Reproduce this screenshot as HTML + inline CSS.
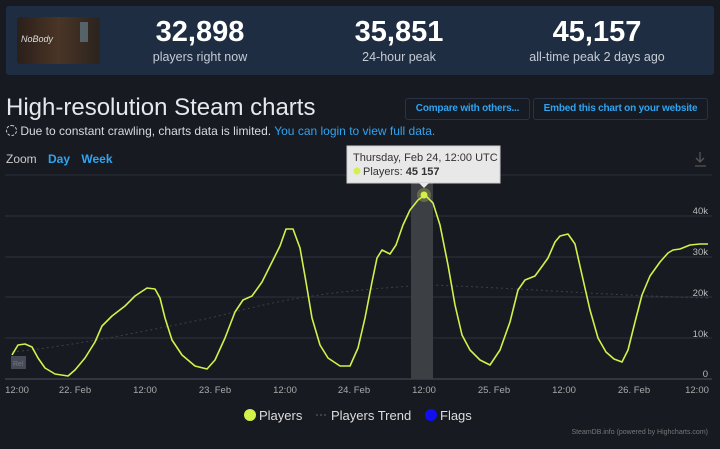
<!DOCTYPE html>
<html><head><meta charset="utf-8"><style>
body{margin:0;width:720px;height:449px;background:#171a21;font-family:"Liberation Sans",sans-serif;overflow:hidden;position:relative;color:#ddd}
.abs{position:absolute}
.panel{left:6px;top:6px;width:708px;height:69px;background:#1f2d42;border-radius:3px}
.num{font-weight:bold;font-size:29px;color:#fff;text-align:center;width:200px}
.lbl{font-size:12.5px;color:#c5ccd6;text-align:center;width:200px}
.btn{border:1px solid #2a3346;border-radius:3px;color:#2fa4f0;font-weight:bold;font-size:10px;height:20px;line-height:20px;text-align:center;background:#161a22;white-space:nowrap;overflow:hidden;letter-spacing:-0.2px}
</style></head><body>
<div class="abs panel"></div>
<div class="abs" style="left:17px;top:17px;width:83px;height:47px;border-radius:3px;background:linear-gradient(90deg,#2a1f1a,#4a3526 50%,#3a2c22 75%,#2b231e);"></div>
<div class="abs" style="left:21px;top:34px;font-size:9px;color:#ddd;font-style:italic">NoBody</div>
<div class="abs" style="left:80px;top:22px;width:8px;height:20px;background:#6a8a9a;opacity:.6"></div>
<div class="abs num" style="left:100px;top:16px">32,898</div>
<div class="abs lbl" style="left:100px;top:50px">players right now</div>
<div class="abs num" style="left:299px;top:16px">35,851</div>
<div class="abs lbl" style="left:299px;top:50px">24-hour peak</div>
<div class="abs num" style="left:497px;top:16px">45,157</div>
<div class="abs lbl" style="left:497px;top:50px">all-time peak 2 days ago</div>
<div class="abs" style="left:6px;top:94px;font-size:24px;color:#e6e8ec">High-resolution Steam charts</div>
<div class="abs btn" style="left:405px;top:98px;width:123px">Compare with others...</div>
<div class="abs btn" style="left:533px;top:98px;width:173px">Embed this chart on your website</div>
<div class="abs" style="left:6px;top:124px;font-size:12px;color:#d8dbe0"><span style="display:inline-block;width:9px;height:9px;border:1px dashed #ccc;border-radius:50%;vertical-align:-1px"></span> Due to constant crawling, charts data is limited. <span style="color:#2fa4f0">You can login to view full data.</span></div>
<div class="abs" style="left:6px;top:152px;font-size:12px;color:#ccc">Zoom <span style="color:#2fa4f0;font-weight:bold;margin-left:8px">Day</span> <span style="color:#2fa4f0;font-weight:bold;margin-left:8px">Week</span></div>
<svg class="abs" style="left:0;top:0" width="720" height="449">
<line x1="5" y1="175" x2="712" y2="175" stroke="#2a2e38"/>
<g stroke="#2c313c" stroke-width="1">
<line x1="5" y1="216" x2="712" y2="216"/><line x1="5" y1="257" x2="712" y2="257"/><line x1="5" y1="297" x2="712" y2="297"/><line x1="5" y1="338" x2="712" y2="338"/>
</g>
<line x1="5" y1="379" x2="712" y2="379" stroke="#3a404c" stroke-width="1.5"/>
<rect x="411" y="175" width="22" height="204" fill="#3c3f44"/>
<g fill="#bbb" font-size="9.5" text-anchor="end"><text x="708" y="214">40k</text><text x="708" y="255">30k</text><text x="708" y="296">20k</text><text x="708" y="337">10k</text><text x="708" y="377">0</text></g>
<g fill="#aaa" font-size="9.5" text-anchor="middle"><text x="17" y="393">12:00</text><text x="75" y="393">22. Feb</text><text x="145" y="393">12:00</text><text x="215" y="393">23. Feb</text><text x="285" y="393">12:00</text><text x="354" y="393">24. Feb</text><text x="424" y="393">12:00</text><text x="494" y="393">25. Feb</text><text x="564" y="393">12:00</text><text x="634" y="393">26. Feb</text><text x="697" y="393">12:00</text></g>
<path d="M12,352 C80,345 150,330 210,318 C260,306 300,292 430,285 C520,288 600,295 708,298" fill="none" stroke="#3e4240" stroke-dasharray="2,3"/>
<rect x="11" y="356" width="15" height="13" fill="#444a58"/><text x="13" y="366" font-size="7" fill="#777">Rel</text>
<polyline fill="none" stroke="#d4f04a" stroke-width="1.6" stroke-linejoin="round" points="12,355 18,345 25,344 32,347 38,358 45,368 55,374 68,376 75,370 85,358 95,342 102,326 112,316 125,306 135,296 147,288 155,289 160,298 165,318 172,340 182,355 195,366 207,369 215,360 225,338 235,312 243,300 252,296 262,282 272,262 280,246 286,229 293,229 300,248 306,282 312,318 320,345 328,358 340,366 350,366 358,348 365,318 372,282 377,258 382,250 390,254 396,245 403,225 410,210 418,200 425,195 433,203 440,225 448,265 455,305 462,335 470,350 480,360 490,365 500,350 510,322 518,290 525,280 535,276 543,265 548,258 555,242 560,236 568,234 575,244 582,275 590,310 598,338 606,352 614,359 622,362 628,350 635,322 642,295 650,276 660,262 668,253 673,250 680,249 690,245 700,244 708,244"/>
<circle cx="424" cy="195" r="7" fill="#d4f04a" opacity=".25"/><circle cx="424" cy="195" r="3.5" fill="#d4f04a"/>
<rect x="347" y="146" width="153" height="37" fill="#e8e8e8" stroke="#ccc"/>
<path d="M419,183 L424,188 L429,183Z" fill="#e8e8e8"/>
<text x="353" y="161" font-size="11" fill="#333">Thursday, Feb 24, 12:00 UTC</text>
<circle cx="357" cy="171" r="3.5" fill="#d4f04a"/>
<text x="363" y="175" font-size="11" fill="#333">Players: <tspan font-weight="bold">45 157</tspan></text>
<g stroke="#555" stroke-width="1.3" fill="none"><path d="M700,152 V162 M696,158 L700,162 L704,158 M695,166 H706"/></g>
<circle cx="250" cy="415" r="6" fill="#d4f04a"/><text x="259" y="420" font-size="13" fill="#ddd">Players</text>
<line x1="316" y1="415" x2="328" y2="415" stroke="#666" stroke-dasharray="2,2"/><text x="331" y="420" font-size="13" fill="#ddd">Players Trend</text>
<circle cx="431" cy="415" r="6" fill="#1010ee"/><text x="440" y="420" font-size="13" fill="#ddd">Flags</text>
<text x="708" y="434" font-size="7" fill="#777" text-anchor="end">SteamDB.info (powered by Highcharts.com)</text>
</svg>
</body></html>
